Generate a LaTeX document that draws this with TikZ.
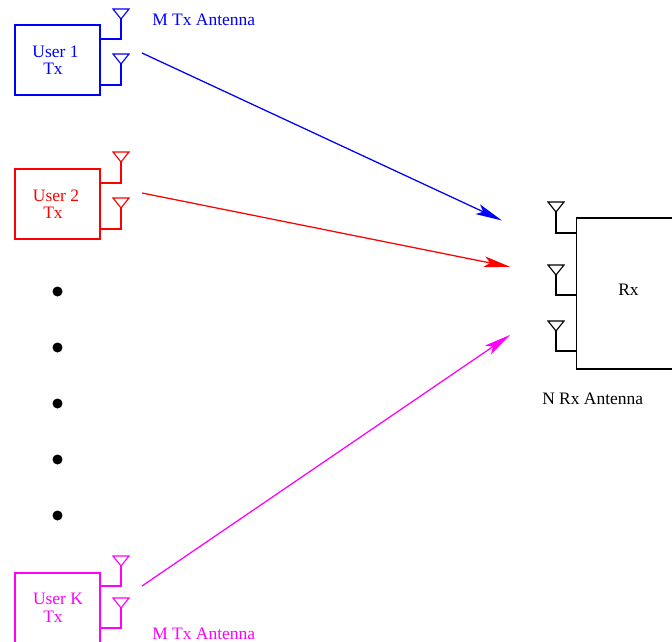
\documentclass[tikz,border=0pt]{standalone}
\usepackage{fontspec}
\setmainfont{Liberation Serif}
\usetikzlibrary{arrows.meta}
\definecolor{usermagenta}{RGB}{255,0,255}
\newcommand{\antenna}[4]{% colour, name, x, top y
  \draw[#1, wire] (#3-8,#4) -- (#3+8,#4) -- (#3,#4+10) -- cycle;
  \coordinate (#2) at (#3,#4+10);
}
\begin{document}
\begin{tikzpicture}[
  x=0.75pt, y=-0.75pt,
  wire/.style={line width=0.85pt},
  box/.style={draw, wire, minimum width=63.75pt, minimum height=52.5pt, inner sep=0pt, outer sep=0pt},
  rxbox/.style={draw, wire, minimum width=120pt, minimum height=113.25pt, inner sep=0pt, outer sep=0pt},
  label/.style={inner sep=0pt, font=\fontsize{13.1pt}{15pt}\selectfont},
  arrow/.style={-{Stealth[length=20pt, width=8pt, inset=4.5pt]}, line width=0.95pt},
  dot/.style={circle, fill=black, minimum size=7.5pt, inner sep=0pt}
]
\useasboundingbox (0,0) rectangle (672,642);
\clip (0,0) rectangle (672,642);
% transmitters
\node[box, blue] (user1) at (57.5,60) {};
\node[box, red] (user2) at (57.5,204) {};
\node[box, usermagenta] (userk) at (57.5,608) {};
\node[label, blue] (user1a) at (55.5,52) {User 1};
\node[label, blue] (user1b) at (53,69) {Tx};
\node[label, red] (user2a) at (56,196) {User 2};
\node[label, red] (user2b) at (53,213) {Tx};
\node[label, usermagenta] (userka) at (58,599) {User K};
\node[label, usermagenta] (userkb) at (53,617) {Tx};
% receiver
\node[rxbox] (rx) at (656.5,293.5) {};
\node[label] (rxa) at (628.5,290) {Rx};
% antennas
\antenna{blue}{anta}{121}{9}
\antenna{blue}{antb}{121}{54}
\antenna{red}{antc}{121}{152}
\antenna{red}{antd}{121}{198}
\antenna{usermagenta}{ante}{121}{556}
\antenna{usermagenta}{antf}{121}{598}
\antenna{black}{antg}{556}{202}
\antenna{black}{anth}{556}{265}
\antenna{black}{anti}{556}{321}
\draw[blue, wire] (anta) |- (user1.east |- 0,39);
\draw[blue, wire] (antb) |- (user1.east |- 0,85);
\draw[red, wire] (antc) |- (user2.east |- 0,183);
\draw[red, wire] (antd) |- (user2.east |- 0,229);
\draw[usermagenta, wire] (ante) |- (userk.east |- 0,586);
\draw[usermagenta, wire] (antf) |- (userk.east |- 0,628);
\draw[wire] (antg) |- (rx.west |- 0,233);
\draw[wire] (anth) |- (rx.west |- 0,295);
\draw[wire] (anti) |- (rx.west |- 0,351);
% antenna captions
\node[label, blue, anchor=west] (capa) at (152,19.5) {M Tx Antenna};
\node[label, usermagenta, anchor=west] (capb) at (152,633.5) {M Tx Antenna};
\node[label, anchor=west] (capc) at (542,398.5) {N Rx Antenna};
% dots
\foreach \y/\n in {291.5/a,347.5/b,403.5/c,459.5/d,515.5/e}
  \node[dot] (dot\n) at (57.5,\y) {};
% links
\coordinate (linka) at (142,53);
\coordinate (linkb) at (142,193);
\coordinate (linkc) at (142,586);
\coordinate (enda) at (502,220.5);
\coordinate (endb) at (510.5,267);
\coordinate (endc) at (510,335);
\draw[arrow, blue] (linka) -- (enda);
\draw[arrow, red] (linkb) -- (endb);
\draw[arrow, usermagenta] (linkc) -- (endc);
\end{tikzpicture}
\end{document}
